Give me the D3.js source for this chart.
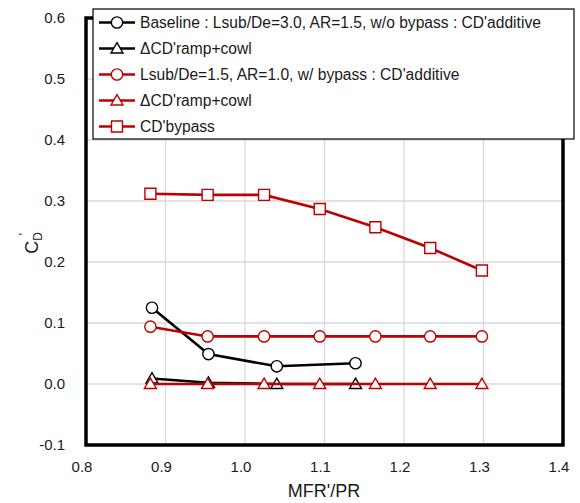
<!DOCTYPE html>
<html>
<head>
<meta charset="utf-8">
<script src="https://cdn.jsdelivr.net/npm/d3@7"></script>
<style>
  body { margin: 0; background: #fff; }
  svg { font-family: "Liberation Sans", Arial, sans-serif; display: block; }
</style>
</head>
<body>
<div id="chart"></div>
<script>
// data
const baseX = [0.883, 0.954, 1.040, 1.139];
const baseAdditive = [0.125, 0.049, 0.029, 0.034];
const baseRampCowl = [0.009, 0.002, 0.0, 0.0];

const bypassX = [0.881, 0.953, 1.024, 1.094, 1.164, 1.233, 1.298];
const bypassAdditive = [0.094, 0.078, 0.078, 0.078, 0.078, 0.078, 0.078];
const bypassRampCowl = [0, 0, 0, 0, 0, 0, 0];
const bypassCD = [0.312, 0.310, 0.310, 0.287, 0.257, 0.223, 0.186];

const xTicks = [0.8, 0.9, 1.0, 1.1, 1.2, 1.3, 1.4];
const yTicks = [-0.1, 0.0, 0.1, 0.2, 0.3, 0.4, 0.5, 0.6];

const seriesNames = [
  "Baseline : Lsub/De=3.0, AR=1.5, w/o bypass : CD'additive",
  "\u0394CD'ramp+cowl",
  "Lsub/De=1.5, AR=1.0, w/ bypass : CD'additive",
  "\u0394CD'ramp+cowl",
  "CD'bypass"
];

const black = "#000000", red = "#C00000";
const series = [
  { name: seriesNames[0], xs: baseX, ys: baseAdditive, color: black, shape: "circle" },
  { name: seriesNames[1], xs: baseX, ys: baseRampCowl, color: black, shape: "triangle" },
  { name: seriesNames[2], xs: bypassX, ys: bypassAdditive, color: red, shape: "circle" },
  { name: seriesNames[3], xs: bypassX, ys: bypassRampCowl, color: red, shape: "triangle" },
  { name: seriesNames[4], xs: bypassX, ys: bypassCD, color: red, shape: "square" }
];

const width = 580, height = 503;
const margin = { top: 18, right: 17, bottom: 58, left: 86 };

const svg = d3.select("#chart").append("svg")
  .attr("width", width)
  .attr("height", height);

const x = d3.scaleLinear().domain([0.8, 1.4]).range([margin.left, width - margin.right]);
const y = d3.scaleLinear().domain([-0.1, 0.6]).range([height - margin.bottom, margin.top]);

// grid
svg.append("g")
  .selectAll("line")
  .data(xTicks)
  .join("line")
    .attr("x1", d => x(d)).attr("x2", d => x(d))
    .attr("y1", y(0.6)).attr("y2", y(-0.1))
    .attr("stroke", "#d9d9d9").attr("stroke-width", 1.3);

svg.append("g")
  .selectAll("line")
  .data(yTicks)
  .join("line")
    .attr("x1", x(0.8)).attr("x2", x(1.4))
    .attr("y1", d => y(d)).attr("y2", d => y(d))
    .attr("stroke", "#d9d9d9").attr("stroke-width", 1.3);

// tick labels
svg.append("g")
  .selectAll("text")
  .data(xTicks)
  .join("text")
    .attr("x", d => x(d) - 4)
    .attr("y", y(-0.1) + 27)
    .attr("text-anchor", "middle")
    .attr("font-size", 15)
    .attr("fill", "#1a1a1a")
    .text(d => d.toFixed(1));

svg.append("g")
  .selectAll("text")
  .data(yTicks)
  .join("text")
    .attr("x", x(0.8) - 21)
    .attr("y", d => y(d) + 5)
    .attr("text-anchor", "end")
    .attr("font-size", 15)
    .attr("fill", "#1a1a1a")
    .text(d => d.toFixed(1));

// axis titles
svg.append("text")
  .attr("x", 324)
  .attr("y", 497)
  .attr("text-anchor", "middle")
  .attr("font-size", 18)
  .attr("fill", "#1a1a1a")
  .text("MFR'/PR");

const yl = svg.append("text")
  .attr("transform", "translate(38,243) rotate(-90)")
  .attr("text-anchor", "middle")
  .attr("font-size", 18)
  .attr("fill", "#1a1a1a");
yl.append("tspan").text("C");
yl.append("tspan").attr("font-size", 12).attr("dy", 4).text("D");
yl.append("tspan").attr("font-size", 12).attr("dy", -14).attr("dx", -3).text("'");

// lines and markers
const line = d3.line().x(d => x(d[0])).y(d => y(d[1]));
const shapes = { circle: d3.symbolCircle, triangle: d3.symbolTriangle, square: d3.symbolSquare };
const sizes = { circle: 100, triangle: 62, square: 121 };

series.forEach(s => {
  const pts = s.xs.map((v, i) => [v, s.ys[i]]);
  const g = svg.append("g");
  g.append("path")
    .attr("d", line(pts))
    .attr("fill", "none")
    .attr("stroke", s.color)
    .attr("stroke-width", 2.6);
  g.selectAll("path.m")
    .data(pts)
    .join("path")
      .attr("class", "m")
      .attr("transform", d => `translate(${x(d[0])},${y(d[1]) + (s.shape === "triangle" ? 1 : 0)})`)
      .attr("d", d3.symbol(shapes[s.shape], sizes[s.shape]))
      .attr("fill", "#fff")
      .attr("stroke", s.color)
      .attr("stroke-width", 1.4);
});

// frame
svg.append("rect")
  .attr("x", x(0.8)).attr("y", y(0.6))
  .attr("width", x(1.4) - x(0.8))
  .attr("height", y(-0.1) - y(0.6))
  .attr("fill", "none")
  .attr("stroke", "#000")
  .attr("stroke-width", 3.5);

// legend
const leg = svg.append("g").attr("transform", "translate(93,9)");
leg.append("rect")
  .attr("width", 481).attr("height", 130)
  .attr("fill", "#fff")
  .attr("stroke", "#000")
  .attr("stroke-width", 1.2);

series.forEach((s, i) => {
  const ly = 13.5 + i * 26;
  const item = leg.append("g").attr("transform", `translate(0,${ly})`);
  item.append("line")
    .attr("x1", 6).attr("x2", 42)
    .attr("stroke", s.color).attr("stroke-width", 2.6);
  item.append("path")
    .attr("transform", `translate(24,${s.shape === "triangle" ? 1 : 0})`)
    .attr("d", d3.symbol(shapes[s.shape], sizes[s.shape]))
    .attr("fill", "#fff")
    .attr("stroke", s.color)
    .attr("stroke-width", 1.4);
  item.append("text")
    .attr("x", 47).attr("y", 5.5)
    .attr("font-size", 15.6)
    .attr("fill", "#1a1a1a")
    .text(s.name);
});
</script>
</body>
</html>
